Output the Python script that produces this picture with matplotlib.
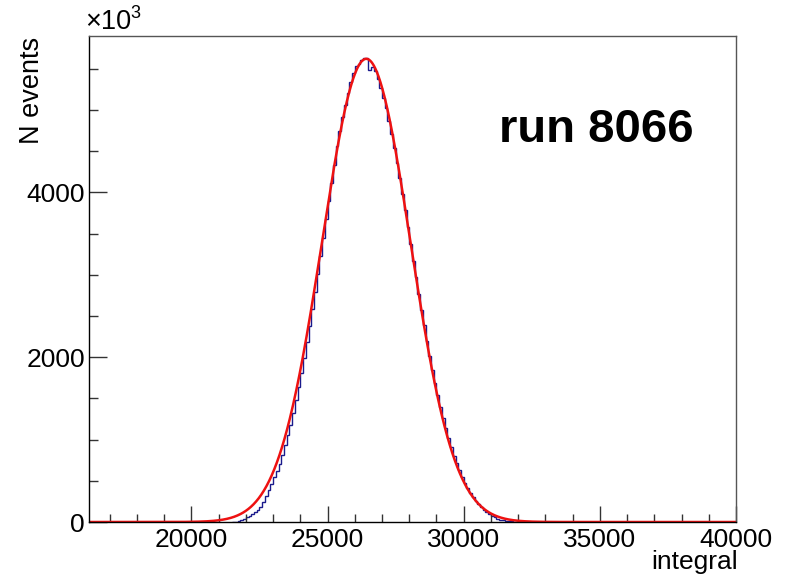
import numpy as np
import matplotlib.pyplot as plt
from matplotlib.ticker import MultipleLocator

plt.rcParams['font.family'] = ['Liberation Sans', 'DejaVu Sans']

# histogram: 100-wide bins from 21500 to 33000 (counts)
bin_lo = 21500
bin_w = 100
counts = [
    3, 6, 12, 20, 35, 55, 72, 95, 120, 148,
    185, 240, 310, 385, 460, 540, 620, 705, 818, 933,
    1053, 1180, 1325, 1475, 1637, 1807, 1988, 2179, 2378, 2583,
    2795, 3012, 3230, 3451, 3671, 3889, 4113, 4329, 4560, 4740,
    4910, 5060, 5200, 5340, 5450, 5530, 5560, 5600, 5630, 5625,
    5480, 5520, 5470, 5380, 5270, 5150, 5020, 4870, 4710, 4540,
    4360, 4170, 3980, 3780, 3580, 3375, 3170, 2970, 2770, 2575,
    2385, 2200, 2020, 1850, 1690, 1540, 1395, 1260, 1135, 1015,
    905, 805, 712, 628, 550, 478, 412, 352, 300, 255,
    215, 178, 145, 117, 93, 72, 55, 41, 30, 22,
    16, 11, 8, 6, 4, 3, 2, 1, 1, 1,
    0, 0, 0, 0, 0,
]

# gaussian fit parameters (constant, mean, sigma)
fit_const = 5620
fit_mean = 26420
fit_sigma = 1620

x_min, x_max = 16240, 40000
y_max = 5900

edges = bin_lo + bin_w * np.arange(len(counts) + 1)

fig = plt.figure(figsize=(7.88, 5.8), dpi=100)
ax = fig.add_axes([0.113, 0.1, 0.821, 0.8384])

ax.stairs(counts, edges, color='#1a1a8c', lw=1.0)

xf = np.linspace(x_min, x_max, 1000)
yf = fit_const * np.exp(-0.5 * ((xf - fit_mean) / fit_sigma) ** 2)
ax.plot(xf, yf, color='#ee1111', lw=1.8)

ax.set_xlim(x_min, x_max)
ax.set_ylim(0, y_max)

ax.xaxis.set_major_locator(MultipleLocator(5000))
ax.xaxis.set_minor_locator(MultipleLocator(1000))
ax.yaxis.set_major_locator(MultipleLocator(2000))
ax.yaxis.set_minor_locator(MultipleLocator(500))
ax.tick_params(which='both', direction='in', top=False, right=False, labelsize=19, width=1, color='#333333')
ax.tick_params(axis='x', which='major', length=11.5, pad=4.5)
ax.tick_params(axis='x', which='minor', length=5.8)
ax.tick_params(axis='y', which='major', length=13, pad=3)
ax.tick_params(axis='y', which='minor', length=6.5)
for s in ax.spines.values():
    s.set_linewidth(1)
    s.set_color('#555555')
ax.spines['left'].set_color('black')
ax.spines['bottom'].set_color('black')

fig.text(0.041, 0.937, 'N events', rotation=90, ha='center', va='top', fontsize=19.5)
fig.text(0.936, 0.019, 'integral', ha='right', va='baseline', fontsize=19)
fig.text(0.108, 0.94, '×10', ha='left', va='bottom', fontsize=19.5)
fig.text(0.166, 0.962, '3', ha='left', va='bottom', fontsize=13)
ax.text(0.934, 0.807, 'run 8066', transform=ax.transAxes, ha='right', va='center',
        fontsize=34, fontweight='bold')

fig.savefig('out.png', dpi=100)
